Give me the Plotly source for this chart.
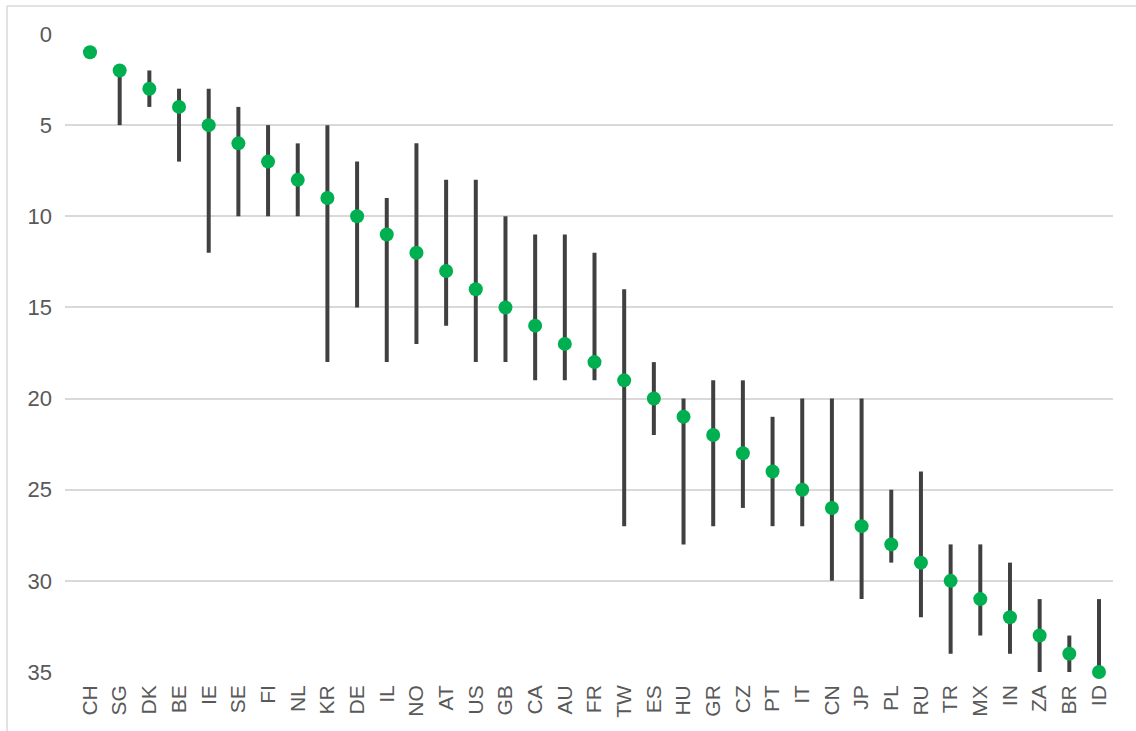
import plotly.graph_objects as go

countries = ["CH", "SG", "DK", "BE", "IE", "SE", "FI", "NL", "KR", "DE", "IL", "NO",
             "AT", "US", "GB", "CA", "AU", "FR", "TW", "ES", "HU", "GR", "CZ", "PT",
             "IT", "CN", "JP", "PL", "RU", "TR", "MX", "IN", "ZA", "BR", "ID"]
rank = [1, 2, 3, 4, 5, 6, 7, 8, 9, 10, 11, 12, 13, 14, 15, 16, 17, 18, 19, 20,
        21, 22, 23, 24, 25, 26, 27, 28, 29, 30, 31, 32, 33, 34, 35]
rank_best = [1, 2, 2, 3, 3, 4, 5, 6, 5, 7, 9, 6, 8, 8, 10, 11, 11, 12, 14, 18,
             20, 19, 19, 21, 20, 20, 20, 25, 24, 28, 28, 29, 31, 33, 31]
rank_worst = [1, 5, 4, 7, 12, 10, 10, 10, 18, 15, 18, 17, 16, 18, 18, 19, 19, 19, 27, 22,
              28, 27, 26, 27, 27, 30, 31, 29, 32, 34, 33, 34, 35, 35, 35]
y_ticks = [0, 5, 10, 15, 20, 25, 30, 35]

# build range segments separated by None
seg_x, seg_y = [], []
for c, lo, hi in zip(countries, rank_best, rank_worst):
    seg_x += [c, c, None]
    seg_y += [lo, hi, None]

fig = go.Figure()
fig.add_trace(go.Scatter(
    x=seg_x, y=seg_y, mode="lines",
    line=dict(color="#404040", width=4),
    hoverinfo="skip", showlegend=False, cliponaxis=False,
))
fig.add_trace(go.Scatter(
    x=countries, y=rank, mode="markers",
    marker=dict(color="#00b050", size=14, line=dict(width=0)),
    showlegend=False, cliponaxis=False,
))

W, H = 1136, 731
ml, mr, mt, mb = 65, 23, 34, 59
pw, ph = W - ml - mr, H - mt - mb

def px_x(px):
    return (px - ml) / pw

def px_y(py):
    return (H - mb - py) / ph

border = "#d9d9d9"
shapes = [
    dict(type="line", xref="paper", yref="paper",
         x0=px_x(7), x1=px_x(1140), y0=px_y(6), y1=px_y(6),
         line=dict(color=border, width=1.5)),
    dict(type="line", xref="paper", yref="paper",
         x0=px_x(7), x1=px_x(7), y0=px_y(6), y1=px_y(740),
         line=dict(color=border, width=1.5)),
]

step = (1099 - 90) / 34.0
r0 = -(90 - ml) / step
r1 = r0 + pw / step

fig.update_layout(
    width=W, height=H,
    margin=dict(l=ml, r=mr, t=mt, b=mb, pad=0),
    paper_bgcolor="white", plot_bgcolor="white",
    font=dict(family="Liberation Sans, Arial, sans-serif", size=21, color="#595959"),
    shapes=shapes,
    xaxis=dict(
        type="category", categoryorder="array", categoryarray=countries,
        range=[r0, r1], showgrid=False, zeroline=False, showline=False,
        tickangle=-90, tickfont=dict(size=21, color="#595959"),
        ticks="", ticklabelstandoff=8,
    ),
    yaxis=dict(
        range=[35, 0], tickvals=y_ticks, showgrid=True, gridcolor="#d9d9d9",
        gridwidth=1.5, zeroline=False, showline=False, ticks="",
        tickfont=dict(size=22, color="#595959"), ticklabelstandoff=12,
    ),
)

fig.write_html(
    "out.html",
    config={"displayModeBar": False},
    post_script="document.body.style.margin='0';document.body.style.overflow='hidden';",
)
